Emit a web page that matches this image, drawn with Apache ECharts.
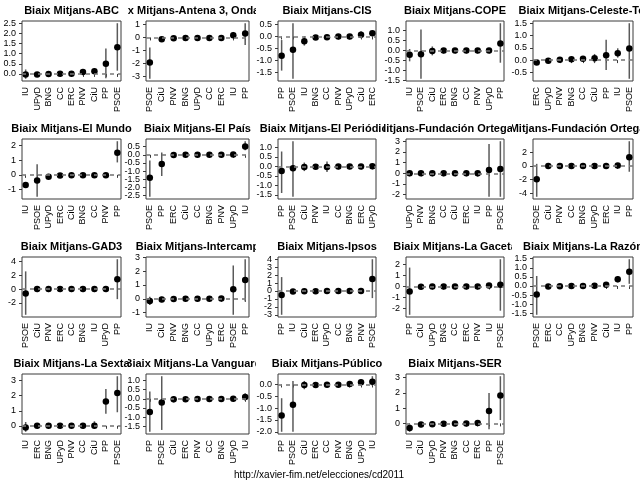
<!DOCTYPE html>
<html><head><meta charset="utf-8">
<script src="https://cdn.jsdelivr.net/npm/echarts@6/dist/echarts.min.js"></script>
<style>html,body{margin:0;padding:0;background:#fff}#c{width:640px;height:480px}</style>
</head><body><div id="c"></div>
<script>
// ---- data ----
const titleABC = 'Biaix Mitjans-ABC';
const catsABC = ['IU','UPyD','BNG','CC','ERC','PNV','CiU','PP','PSOE'];
const estABC = [-0.03,-0.03,-0.01,0.01,0.01,0.09,0.13,0.50,1.32];
const loABC = [-0.24,-0.08,-0.05,-0.03,-0.03,0.03,0.02,-0.22,0.16];
const hiABC = [0.22,0.02,0.03,0.05,0.06,0.15,0.27,1.25,2.50];
const ticksABC = [0,0.5,1,1.5,2,2.5];

const titleA3 = 'Biaix Mitjans-Antena 3, Onda Cero';
const catsA3 = ['PSOE','CiU','PNV','BNG','UPyD','CC','ERC','IU','PP'];
const estA3 = [-1.93,-0.14,-0.07,-0.05,-0.05,-0.05,-0.05,0.17,0.3];
const loA3 = [-3.17,-0.32,-0.12,-0.1,-0.1,-0.1,-0.1,-0.05,-0.58];
const hiA3 = [-0.78,0.02,-0.02,0.0,0.0,0.0,0.0,0.42,1.09];
const ticksA3 = [-3,-2,-1,0,1];

const titleCIS = 'Biaix Mitjans-CIS';
const catsCIS = ['PP','PSOE','IU','BNG','CC','PNV','UPyD','CiU','ERC'];
const estCIS = [-0.8,-0.55,-0.2,-0.04,-0.03,0.0,0.0,0.07,0.13];
const loCIS = [-1.42,-1.76,-0.38,-0.08,-0.07,-0.04,-0.04,-0.08,0.05];
const hiCIS = [-0.15,0.55,0.0,0.0,0.01,0.04,0.04,0.22,0.22];
const ticksCIS = [-1.5,-1,-0.5,0,0.5];

const titleCOPE = 'Biaix Mitjans-COPE';
const catsCOPE = ['IU','PSOE','CiU','ERC','BNG','CC','PNV','UPyD','PP'];
const estCOPE = [-0.22,-0.2,-0.03,0.0,0.0,0.0,0.0,0.0,0.35];
const loCOPE = [-0.55,-1.43,-0.25,-0.04,-0.04,-0.04,-0.04,-0.04,-0.62];
const hiCOPE = [0.07,1.05,0.2,0.04,0.04,0.04,0.04,0.04,1.37];
const ticksCOPE = [-1.5,-1,-0.5,0,0.5,1];

const titleCel = 'Biaix Mitjans-Celeste-Tel';
const catsCel = ['ERC','UPyD','PNV','BNG','CC','CiU','PP','IU','PSOE'];
const estCel = [-0.1,-0.03,0.01,0.03,0.05,0.08,0.2,0.28,0.47];
const loCel = [-0.15,-0.08,-0.03,-0.01,0.0,-0.1,-0.4,0.1,-0.76];
const hiCel = [-0.05,0.02,0.05,0.07,0.1,0.25,0.83,0.48,1.5];
const ticksCel = [-0.5,0,0.5,1,1.5];

const titleMun = 'Biaix Mitjans-El Mundo';
const catsMun = ['IU','PSOE','UPyD','ERC','CiU','BNG','CC','PNV','PP'];
const estMun = [-0.7,-0.38,-0.13,-0.04,-0.03,-0.02,-0.02,-0.03,1.52];
const loMun = [-0.88,-1.5,-0.22,-0.08,-0.1,-0.06,-0.06,-0.07,0.85];
const hiMun = [-0.52,0.72,-0.04,0.0,0.05,0.02,0.02,0.01,2.3];
const ticksMun = [-1,0,1,2];

const titlePais = 'Biaix Mitjans-El País';
const catsPais = ['PSOE','PP','ERC','CiU','CC','BNG','PNV','UPyD','IU'];
const estPais = [-1.4,-0.57,-0.01,0.0,0.0,0.0,0.0,0.02,0.5];
const loPais = [-2.57,-1.3,-0.06,-0.15,-0.04,-0.04,-0.04,-0.03,0.28];
const hiPais = [-0.35,0.14,0.04,0.13,0.04,0.04,0.04,0.07,0.83];
const ticksPais = [-2.5,-2,-1.5,-1,-0.5,0,0.5];

const titlePer = 'Biaix Mitjans-El Periódico';
const catsPer = ['PP','PSOE','CiU','PNV','IU','CC','BNG','ERC','UPyD'];
const estPer = [-0.25,-0.1,-0.03,-0.02,-0.03,-0.01,-0.01,-0.01,0.0];
const loPer = [-1.4,-1.6,-0.25,-0.06,-0.3,-0.05,-0.05,-0.05,-0.04];
const hiPer = [0.78,1.32,0.2,0.02,0.25,0.03,0.03,0.03,0.04];
const ticksPer = [-1.5,-1,-0.5,0,0.5,1];

const titleFO1 = 'Biaix Mitjans-Fundación Ortega-Marañón';
const catsFO1 = ['UPyD','PNV','BNG','CC','CiU','ERC','IU','PP','PSOE'];
const estFO1 = [0.0,0.0,0.0,0.0,0.0,0.0,0.0,0.3,0.4];
const loFO1 = [-0.06,-0.06,-0.06,-0.06,-0.2,-0.06,-0.3,-2.2,-2.2];
const hiFO1 = [0.06,0.06,0.06,0.06,0.2,0.06,0.25,2.75,3.0];
const ticksFO1 = [-2,-1,0,1,2,3];

const titleFO2 = 'Biaix Mitjans-Fundación Ortega-Gasset';
const catsFO2 = ['PSOE','CiU','PNV','CC','BNG','UPyD','ERC','IU','PP'];
const estFO2 = [-1.93,0.0,0.0,0.0,0.0,0.0,0.0,0.05,1.25];
const loFO2 = [-4.5,-0.1,-0.1,-0.1,-0.1,-0.1,-0.1,-0.15,-0.85];
const hiFO2 = [0.3,0.1,0.1,0.1,0.1,0.1,0.1,0.25,3.6];
const ticksFO2 = [-4,-2,0,2];

const titleGAD = 'Biaix Mitjans-GAD3';
const catsGAD = ['PSOE','CiU','PNV','ERC','CC','BNG','IU','UPyD','PP'];
const estGAD = [-0.63,0.0,0.0,0.0,0.0,0.0,0.0,0.0,1.4];
const loGAD = [-3.7,-0.1,-0.1,-0.1,-0.1,-0.1,-0.15,-0.1,-1.45];
const hiGAD = [2.55,0.1,0.1,0.1,0.1,0.1,0.15,0.1,4.3];
const ticksGAD = [-2,0,2,4];

const titleInt = 'Biaix Mitjans-Intercamp';
const catsInt = ['IU','CiU','PNV','BNG','CC','UPyD','ERC','PSOE','PP'];
const estInt = [-0.15,-0.05,-0.02,0.0,0.0,0.0,0.02,0.68,1.35];
const loInt = [-0.45,-0.25,-0.07,-0.05,-0.05,-0.05,-0.03,-1.15,-0.2];
const hiInt = [0.15,0.15,0.03,0.05,0.05,0.05,0.07,2.4,2.85];
const ticksInt = [-1,0,1,2,3];

const titleIps = 'Biaix Mitjans-Ipsos';
const catsIps = ['PP','IU','CiU','ERC','UPyD','CC','BNG','PNV','PSOE'];
const estIps = [-0.5,-0.08,-0.05,-0.02,0.0,0.0,0.0,0.0,1.5];
const loIps = [-3.0,-0.3,-0.2,-0.07,-0.05,-0.05,-0.05,-0.05,-0.9];
const hiIps = [1.75,0.15,0.1,0.03,0.05,0.05,0.05,0.05,4.0];
const ticksIps = [-3,-2,-1,0,1,2,3,4];

const titleGac = 'Biaix Mitjans-La Gaceta';
const catsGac = ['PP','CiU','UPyD','BNG','CC','ERC','PNV','IU','PSOE'];
const estGac = [-0.45,-0.02,0.0,0.0,0.0,0.0,0.0,0.08,0.15];
const loGac = [-2.57,-0.15,-0.05,-0.05,-0.05,-0.05,-0.05,-0.1,-2.2];
const hiGac = [1.72,0.12,0.05,0.05,0.05,0.05,0.05,0.25,2.48];
const ticksGac = [-2,-1,0,1,2];

const titleRaz = 'Biaix Mitjans-La Razón';
const catsRaz = ['PSOE','ERC','CC','UPyD','BNG','PNV','CiU','IU','PP'];
const estRaz = [-0.47,-0.03,-0.01,0.0,0.0,0.02,0.07,0.37,0.78];
const loRaz = [-1.58,-0.07,-0.05,-0.04,-0.04,-0.02,-0.05,0.2,0.12];
const hiRaz = [0.55,0.01,0.03,0.04,0.04,0.06,0.2,0.55,1.47];
const ticksRaz = [-1.5,-1,-0.5,0,0.5,1,1.5];

const titleSex = 'Biaix Mitjans-La Sexta';
const catsSex = ['IU','ERC','BNG','UPyD','PNV','CC','CiU','PP','PSOE'];
const estSex = [-0.12,0.0,0.0,0.0,0.0,0.0,0.0,1.62,2.18];
const loSex = [-0.4,-0.05,-0.05,-0.05,-0.05,-0.05,-0.2,0.8,0.9];
const hiSex = [0.25,0.05,0.05,0.05,0.05,0.05,0.3,2.45,3.3];
const ticksSex = [0,1,2,3];

const titleVan = 'Biaix Mitjans-La Vanguardia';
const catsVan = ['PP','PSOE','CiU','ERC','PNV','CC','BNG','UPyD','IU'];
const estVan = [-0.72,-0.2,-0.03,-0.02,-0.01,-0.01,-0.01,0.0,0.1];
const loVan = [-1.8,-1.7,-0.2,-0.06,-0.05,-0.05,-0.05,-0.04,-0.1];
const hiVan = [0.4,1.23,0.15,0.02,0.03,0.03,0.03,0.04,0.3];
const ticksVan = [-1.5,-1,-0.5,0,0.5,1];

const titlePub = 'Biaix Mitjans-Público';
const catsPub = ['PP','PSOE','CiU','ERC','CC','PNV','BNG','UPyD','IU'];
const estPub = [-1.31,-0.86,-0.02,-0.02,-0.01,-0.01,0.02,0.1,0.12];
const loPub = [-2.0,-2.0,-0.2,-0.06,-0.05,-0.05,-0.02,0.0,-0.05];
const hiPub = [-0.58,0.15,0.15,0.02,0.03,0.03,0.06,0.2,0.35];
const ticksPub = [-2,-1.5,-1,-0.5,0];

const titleSER = 'Biaix Mitjans-SER';
const catsSER = ['IU','CiU','UPyD','PNV','BNG','CC','ERC','PP','PSOE'];
const estSER = [-0.3,-0.08,-0.05,-0.02,-0.01,-0.01,0.02,0.82,1.83];
const loSER = [-0.55,-0.25,-0.09,-0.06,-0.05,-0.05,-0.02,-0.38,0.22];
const hiSER = [-0.05,0.1,-0.01,0.02,0.03,0.03,0.06,2.0,3.1];
const ticksSER = [0,1,2,3];

const footerText = 'http://xavier-fim.net/elecciones/cd2011';

const panels = [
  [titleABC, catsABC, estABC, loABC, hiABC, ticksABC],
  [titleA3, catsA3, estA3, loA3, hiA3, ticksA3],
  [titleCIS, catsCIS, estCIS, loCIS, hiCIS, ticksCIS],
  [titleCOPE, catsCOPE, estCOPE, loCOPE, hiCOPE, ticksCOPE],
  [titleCel, catsCel, estCel, loCel, hiCel, ticksCel],
  [titleMun, catsMun, estMun, loMun, hiMun, ticksMun],
  [titlePais, catsPais, estPais, loPais, hiPais, ticksPais],
  [titlePer, catsPer, estPer, loPer, hiPer, ticksPer],
  [titleFO1, catsFO1, estFO1, loFO1, hiFO1, ticksFO1],
  [titleFO2, catsFO2, estFO2, loFO2, hiFO2, ticksFO2],
  [titleGAD, catsGAD, estGAD, loGAD, hiGAD, ticksGAD],
  [titleInt, catsInt, estInt, loInt, hiInt, ticksInt],
  [titleIps, catsIps, estIps, loIps, hiIps, ticksIps],
  [titleGac, catsGac, estGac, loGac, hiGac, ticksGac],
  [titleRaz, catsRaz, estRaz, loRaz, hiRaz, ticksRaz],
  [titleSex, catsSex, estSex, loSex, hiSex, ticksSex],
  [titleVan, catsVan, estVan, loVan, hiVan, ticksVan],
  [titlePub, catsPub, estPub, loPub, hiPub, ticksPub],
  [titleSER, catsSER, estSER, loSER, hiSER, ticksSER]
];

// ---- layout ----
const FONT = '"Liberation Sans", Arial, Helvetica, sans-serif';
const colLeft = [22, 146, 278, 406, 533];
const colWidth = [99, 103, 98, 98, 100];
const rowTop = [21, 139, 257, 374];
const boxH = 60;
const cellLeft = [0, 128, 256, 384, 512];
const cellWidth = [132, 128, 128, 128, 128];

const chart = echarts.init(document.getElementById('c'), null, {renderer: 'canvas'});
const grids = [], xAxes = [], yAxes = [], series = [];
const positions = [1,2,3,4,5,6,7,8,9];

panels.forEach((p, i) => {
  const [title, cats, est, lo, hi, ticks] = p;
  const r = Math.floor(i / 5), c = i % 5;
  const dec = ticks.some(t => Math.abs(t - Math.round(t)) > 1e-9) ? 1 : 0;
  const dmin = Math.min.apply(null, lo.concat(est));
  const dmax = Math.max.apply(null, hi.concat(est));
  const ext = (dmax - dmin) * 0.04;
  grids.push({
    left: colLeft[c], top: rowTop[r], width: colWidth[c], height: boxH,
    show: true, borderColor: '#3a3a3a', borderWidth: 1, backgroundColor: 'transparent',
    containLabel: false, outerBoundsMode: 'none'
  });
  xAxes.push({
    gridIndex: i, type: 'value', min: 0.68, max: 9.32,
    axisLine: {show: false}, splitLine: {show: false},
    axisTick: {show: true, length: 3, lineStyle: {color: '#3a3a3a'}, customValues: positions},
    axisLabel: {
      customValues: positions, rotate: 90, fontSize: 9, color: '#000', margin: 6,
      interval: 0, hideOverlap: false,
      fontFamily: FONT, formatter: v => cats[Math.round(v) - 1]
    }
  });
  // two y axes sharing the same scale: alternate tick labels split between them
  // so that the tight R-style labels are never dropped by overlap handling
  [0, 1].forEach(part => {
    const sub = ticks.filter((t, k) => k % 2 === part);
    yAxes.push({
      gridIndex: i, type: 'value', position: 'left', offset: 0,
      min: dmin - ext, max: dmax + ext,
      axisLine: {show: false}, splitLine: {show: false},
      axisTick: {show: true, length: 3, lineStyle: {color: '#3a3a3a'}, customValues: sub},
      axisLabel: {
        customValues: sub, fontSize: 9, color: '#000', margin: 6, fontFamily: FONT,
        interval: 0, hideOverlap: false, showMinLabel: true, showMaxLabel: true,
        formatter: v => Number(v).toFixed(dec)
      }
    });
  });
  const yi = 2 * i;
  series.push({
    type: 'custom', xAxisIndex: i, yAxisIndex: yi, z: 2,
    data: cats.map((_, k) => [positions[k], lo[k], hi[k]]),
    encode: {x: 0, y: [1, 2]},
    renderItem: (params, api) => {
      const a = api.coord([api.value(0), api.value(1)]);
      const b = api.coord([api.value(0), api.value(2)]);
      return {type: 'line', shape: {x1: a[0], y1: a[1], x2: b[0], y2: b[1]},
              style: {stroke: '#5a5a5a', lineWidth: 1.5}};
    },
    markLine: {
      silent: true, symbol: ['none', 'none'], label: {show: false}, animation: false,
      lineStyle: {type: [4, 4], color: '#7a7a7a', width: 1.6},
      data: [{yAxis: 0}]
    }
  });
  series.push({
    type: 'scatter', xAxisIndex: i, yAxisIndex: yi, z: 3,
    symbol: 'circle', symbolSize: 6.5, itemStyle: {color: '#000', opacity: 1},
    data: est.map((v, k) => [positions[k], v])
  });
});

// titles (clipped to their own cell, like R's figure region)
series.push({
  type: 'custom', coordinateSystem: 'none', z: 5, silent: true,
  data: panels.map((p, i) => i),
  renderItem: (params, api) => {
    const i = params.dataIndex;
    const r = Math.floor(i / 5), c = i % 5;
    const cx = colLeft[c] + colWidth[c] / 2;
    const cy = rowTop[r] - 10;
    return {
      type: 'text',
      style: {
        x: cx, y: cy, text: panels[i][0],
        fontSize: 11, fontWeight: 'bold', fontFamily: FONT, fill: '#000',
        align: 'center', verticalAlign: 'middle',
        textAlign: 'center', textVerticalAlign: 'middle'
      },
      clipPath: {type: 'rect', shape: {x: cellLeft[c], y: cy - 12, width: cellWidth[c], height: 24}}
    };
  }
});

chart.setOption({
  animation: false,
  backgroundColor: '#fff',
  grid: grids, xAxis: xAxes, yAxis: yAxes, series: series,
  graphic: [{
    type: 'text', x: 319, y: 475,
    style: {text: footerText, fontSize: 10, fontFamily: FONT, fill: '#000',
            align: 'center', verticalAlign: 'middle', textAlign: 'center', textVerticalAlign: 'middle'}
  }]
});
</script></body></html>
